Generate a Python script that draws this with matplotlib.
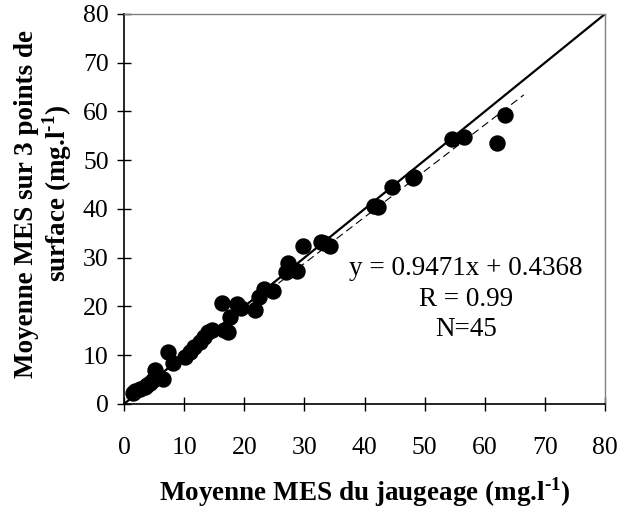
import numpy as np
import matplotlib
matplotlib.use("Agg")
import matplotlib.pyplot as plt

plt.rcParams['font.family'] = ['Liberation Serif', 'DejaVu Serif']
plt.rcParams['mathtext.fontset'] = 'custom'
plt.rcParams['mathtext.rm'] = 'Liberation Serif'
plt.rcParams['mathtext.bf'] = 'Liberation Serif:bold'

# Moyenne MES du jaugeage (mg/l)
jaugeage = [1.5, 1.8, 2.7, 3.5, 3.8, 4.3, 4.8, 5.2, 5.7, 6.5,
            7.3, 8.2, 10.2, 11.0, 11.7, 12.7, 13.3, 14.0, 14.7, 16.3,
            16.7, 17.3, 17.7, 18.8, 19.5, 21.8, 22.5, 23.2, 24.8, 27.0,
            27.3, 28.8, 29.7, 32.8, 33.2, 34.2, 41.5, 42.2, 44.5, 48.0,
            48.3, 54.5, 56.5, 62.0, 63.3]
# Moyenne MES sur 3 points de surface (mg/l)
surface = [2.3, 2.7, 3.1, 3.5, 3.9, 4.3, 4.9, 7.0, 5.5, 5.1,
           10.7, 8.4, 9.6, 10.7, 11.7, 12.7, 13.7, 14.8, 15.2, 20.7,
           15.2, 14.8, 17.8, 20.5, 19.7, 19.3, 21.9, 23.6, 23.2, 27.1,
           28.9, 27.3, 32.4, 33.2, 33.0, 32.4, 40.6, 40.4, 44.5, 46.4,
           46.6, 54.4, 54.8, 53.5, 59.3]

slope = 0.9471
intercept = 0.4368
ticks = [0, 10, 20, 30, 40, 50, 60, 70, 80]

fig = plt.figure(figsize=(6.21, 5.09), dpi=100)
ax = fig.add_axes([0.1997, 0.2063, 0.7746, 0.7662])

ax.plot([0, 80], [0, 80], color='black', lw=1.6, zorder=2)
xr = np.array([min(jaugeage), 66.5])
ax.plot(xr, slope * xr + intercept, color='black', lw=0.8,
        dashes=(7, 4), zorder=2)
ax.plot(jaugeage, surface, 'o', color='black', ms=10.8, zorder=3)

ax.set_xlim(0, 80)
ax.set_ylim(0, 80)
ax.set_xticks(ticks)
ax.set_yticks(ticks)
ax.tick_params(axis='both', direction='inout', length=10, width=1,
               labelsize=18.5)
ax.tick_params(axis='x', pad=19)
ax.tick_params(axis='y', pad=6)

for s in ['left', 'bottom']:
    ax.spines[s].set_linewidth(1.2)
for s in ['top', 'right']:
    ax.spines[s].set_color('#808080')
    ax.spines[s].set_linewidth(1)

sup = '$^{\\mathbf{\u2010' + '1}}$'
ax.set_xlabel('Moyenne MES du jaugeage (mg.l' + sup + ')',
              fontsize=19.5, fontweight='bold', labelpad=11)
fig.text(0.042, 0.60, 'Moyenne MES sur 3 points de', rotation=90,
         fontsize=19.5, fontweight='bold', ha='center', va='center')
fig.text(0.092, 0.62, 'surface (mg.l' + sup + ')', rotation=90,
         fontsize=19.5, fontweight='bold', ha='center', va='center')

ax.text(0.711, 0.269, 'y = 0.9471x + 0.4368\nR = 0.99\nN=45',
        transform=ax.transAxes, ha='center', va='center', fontsize=19.5,
        linespacing=1.28)

fig.savefig('out.png', dpi=100)
